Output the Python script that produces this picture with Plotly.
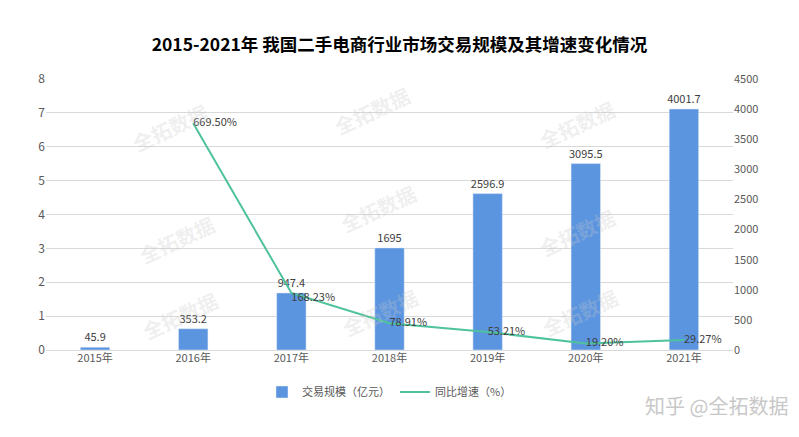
import plotly.graph_objects as go

years = ["2015年", "2016年", "2017年", "2018年", "2019年", "2020年", "2021年"]
scale = [45.9, 353.2, 947.4, 1695, 2596.9, 3095.5, 4001.7]
scale_labels = ["45.9", "353.2", "947.4", "1695", "2596.9", "3095.5", "4001.7"]
growth = [None, 6.695, 1.6823, 0.7891, 0.5321, 0.192, 0.2927]
growth_labels = ["", "669.50%", "168.23%", "78.91%", "53.21%", "19.20%", "29.27%"]

FONT = "Noto Sans CJK SC"
TXT = "#595959"

fig = go.Figure()
fig.add_trace(go.Bar(
    x=years, y=scale, name="交易规模（亿元）", yaxis="y",
    marker=dict(color="#5B95E0"), width=0.3,
    text=scale_labels, textposition="outside", cliponaxis=False,
    constraintext="none",
    textfont=dict(size=11, color="#404040", family=FONT),
))
fig.add_trace(go.Scatter(
    x=years, y=growth, name="同比增速（%）", yaxis="y2", mode="lines+text",
    line=dict(color="#4EC29C", width=2),
    text=growth_labels,
    textposition=["middle right", "middle right", "bottom right", "middle right",
                  "middle right", "middle right", "middle right"],
    cliponaxis=False,
    textfont=dict(size=11, color="#404040", family=FONT),
))

L, R, T, B = 46, 66, 79, 87
W, H = 799 - L - R, 437 - T - B

# faint watermarks (pixel positions converted to paper coords)
wm = [(125, 95), (372, 78), (622, 92), (132, 240), (378, 208), (622, 232),
      (135, 348), (380, 345), (625, 345)]
annotations = []
for (px, py) in wm:
    annotations.append(dict(
        x=(px - L) / W, y=(437 - B - py) / H, xref="paper", yref="paper",
        text="<b>全拓数据</b>", showarrow=False, textangle=-25,
        font=dict(size=20, color="rgba(200,200,200,0.28)", family=FONT),
    ))
annotations.append(dict(
    x=(790 - L) / W, y=(350 - 405) / H, xref="paper", yref="paper",
    xanchor="right", yanchor="middle", text="知乎 @全拓数据", showarrow=False,
    font=dict(size=20, color="#C8C8C8", family=FONT),
))

fig.update_layout(
    width=799, height=437,
    margin=dict(l=L, r=R, t=T, b=B),
    paper_bgcolor="white", plot_bgcolor="white",
    title=dict(text="<b>2015-2021年 我国二手电商行业市场交易规模及其增速变化情况</b>",
               x=0.5, xanchor="center", y=1 - 45 / 437, yanchor="middle",
               font=dict(size=17.5, color="#000000", family=FONT)),
    font=dict(family=FONT, size=11, color=TXT),
    xaxis=dict(type="category", showgrid=False, showline=False, ticks="",
               tickfont=dict(size=11, color=TXT)),
    yaxis=dict(side="right", range=[0, 4500], dtick=500, showgrid=False,
               zeroline=False, showline=False, tickfont=dict(size=11, color=TXT)),
    yaxis2=dict(side="left", overlaying="y", range=[0, 8], dtick=1,
                showgrid=True, gridcolor="#D9D9D9", gridwidth=1,
                zeroline=True, zerolinecolor="#D9D9D9", zerolinewidth=1,
                showline=False, tickfont=dict(size=12, color=TXT)),
    legend=dict(orientation="h", x=0.5, xanchor="center", y=(350 - 392) / H,
                yanchor="middle", font=dict(size=11, color=TXT, family=FONT),
                traceorder="normal"),
    bargap=0.7,
    annotations=annotations,
)

fig.write_html("out.html", config={"displayModeBar": False},
               post_script="document.body.style.margin='0';document.body.style.padding='0';document.body.style.overflow='hidden';")
